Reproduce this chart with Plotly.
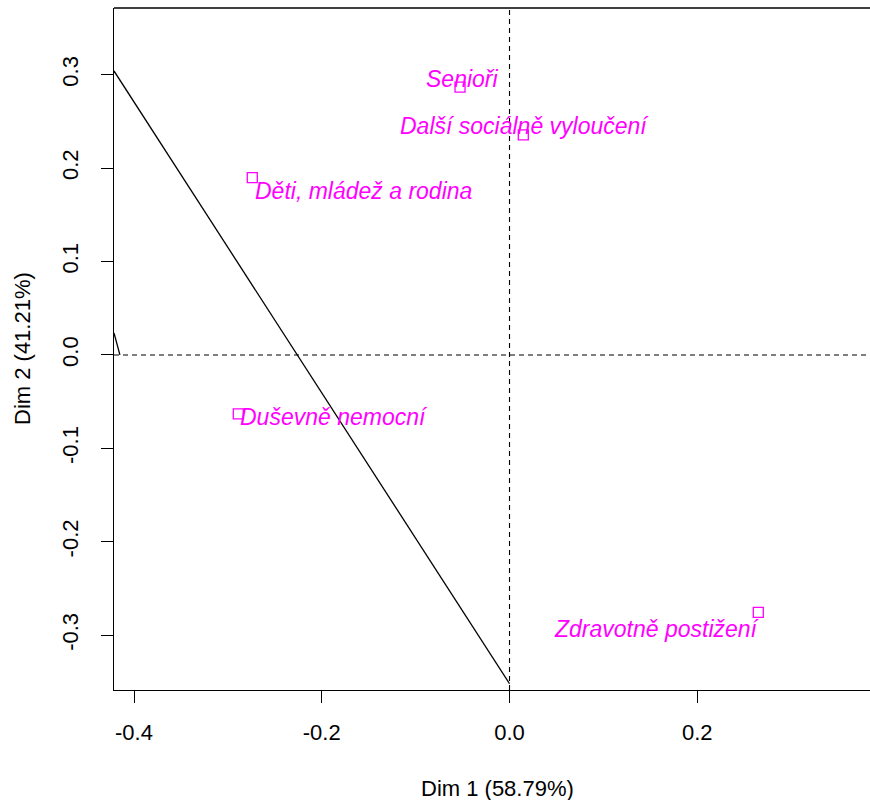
import plotly.graph_objects as go

# Column coordinates on the first two CA dimensions
categories = ["Senioři", "Další sociálně vyloučení", "Děti, mládež a rodina",
              "Duševně nemocní", "Zdravotně postižení"]
dim1 = [-0.0527, 0.0147, -0.274, -0.2889, 0.265]
dim2 = [0.2866, 0.2355, 0.1898, -0.0632, -0.2755]

# Label placement: anchor and pixel offsets relative to each point
label_anchor = ["center", "center", "left", "left", "right"]
label_dx = [2, 1, 1, 0, 4]
label_dy = [8, 9, -13, -3, -17]

# Solid segments drawn over the map
seg_a_x = [-0.4213, 0.0]
seg_a_y = [0.304, -0.352]
seg_b_x = [-0.4213, -0.415]
seg_b_y = [0.0236, 0.0]

x_ticks = [-0.4, -0.2, 0.0, 0.2]
x_ticktext = ["-0.4", "-0.2", "0.0", "0.2"]
y_ticks = [-0.3, -0.2, -0.1, 0.0, 0.1, 0.2, 0.3]
y_ticktext = ["-0.3", "-0.2", "-0.1", "0.0", "0.1", "0.2", "0.3"]

x_range = [-0.4213, 0.384]
y_range = [-0.3587, 0.3714]

FONT = "Liberation Sans, Arial, sans-serif"
MAG = "#FF00FF"

fig = go.Figure()

# Reference lines through the origin
fig.add_trace(go.Scatter(x=x_range, y=[0, 0], mode="lines",
                         line=dict(color="black", width=1.1, dash="5px,4px"),
                         hoverinfo="skip", showlegend=False))
fig.add_trace(go.Scatter(x=[0, 0], y=y_range, mode="lines",
                         line=dict(color="black", width=1.1, dash="5px,4px"),
                         hoverinfo="skip", showlegend=False))

fig.add_trace(go.Scatter(x=seg_a_x, y=seg_a_y, mode="lines",
                         line=dict(color="black", width=1.3),
                         hoverinfo="skip", showlegend=False))
fig.add_trace(go.Scatter(x=seg_b_x, y=seg_b_y, mode="lines",
                         line=dict(color="black", width=1.3),
                         hoverinfo="skip", showlegend=False))

fig.add_trace(go.Scatter(x=dim1, y=dim2, mode="markers",
                         marker=dict(symbol="square-open", size=10, color=MAG,
                                     line=dict(width=1.3, color=MAG)),
                         text=categories, hoverinfo="text", showlegend=False))

for name, x, y, anc, dx, dy in zip(categories, dim1, dim2, label_anchor, label_dx, label_dy):
    fig.add_annotation(x=x, y=y, xref="x", yref="y", text=name, showarrow=False,
                       xanchor=anc, yanchor="middle", xshift=dx, yshift=dy,
                       font=dict(family=FONT, size=23, color=MAG, style="italic"))

# Axis titles
fig.add_annotation(x=(497 - 114) / (870 - 114), y=-98 / 682, xref="paper", yref="paper",
                   text="Dim 1 (58.79%)", showarrow=False, xanchor="center", yanchor="middle",
                   font=dict(family=FONT, size=22, color="black"))
fig.add_annotation(x=-92 / 756, y=(690 - 349) / 682, xref="paper", yref="paper",
                   text="Dim 2 (41.21%)", showarrow=False, textangle=-90,
                   xanchor="center", yanchor="middle",
                   font=dict(family=FONT, size=22, color="black"))

# Top border of the plot box
fig.add_shape(type="line", xref="paper", yref="paper", x0=0, x1=1, y0=1, y1=1,
              line=dict(color="black", width=1.3))

fig.update_xaxes(range=x_range, tickvals=x_ticks, ticktext=x_ticktext,
                 ticks="outside", ticklen=12, tickwidth=1.2, tickcolor="black",
                 showline=True, linecolor="black", linewidth=1.3, mirror=False,
                 showgrid=False, zeroline=False, ticklabelstandoff=10,
                 tickfont=dict(family=FONT, size=22, color="black"))
fig.update_yaxes(range=y_range, tickvals=y_ticks, ticktext=y_ticktext,
                 ticks="outside", ticklen=12, tickwidth=1.2, tickcolor="black",
                 showline=True, linecolor="black", linewidth=1.3, mirror=False,
                 showgrid=False, zeroline=False, tickangle=-90, ticklabelstandoff=14,
                 tickfont=dict(family=FONT, size=22, color="black"))

fig.update_layout(width=870, height=800,
                  margin=dict(l=114, r=0, t=8, b=110),
                  plot_bgcolor="white", paper_bgcolor="white",
                  font=dict(family=FONT, size=22, color="black"))

fig.write_html("out.html")
